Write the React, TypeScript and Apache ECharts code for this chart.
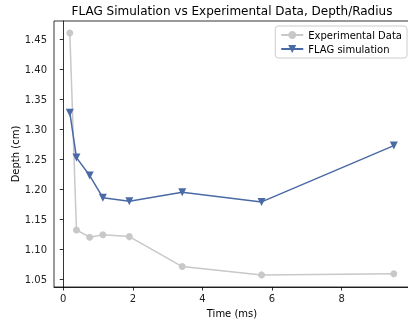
import React, { useEffect, useRef } from "react";
import * as echarts from "echarts";

const timeMs = [0.19, 0.38, 0.76, 1.14, 1.9, 3.42, 5.7, 9.5];
const experimental = [1.461, 1.132, 1.12, 1.124, 1.121, 1.071, 1.057, 1.059];
const flag = [1.328, 1.253, 1.223, 1.186, 1.18, 1.195, 1.179, 1.273];
const xTicks = [0, 2, 4, 6, 8];
const yTicks = [1.05, 1.1, 1.15, 1.2, 1.25, 1.3, 1.35, 1.4, 1.45];

const FONT = "DejaVu Sans";

export default function App() {
  const ref = useRef<HTMLDivElement>(null);
  useEffect(() => {
    if (!ref.current) return;
    const chart = echarts.init(ref.current, undefined, { renderer: "svg" });
    const axisCommon = {
      axisLine: { show: true, lineStyle: { color: "#000", width: 0.8 } },
      axisTick: { show: true, length: 3.5, lineStyle: { color: "#000", width: 0.8 } },
      splitLine: { show: false },
    };
    chart.setOption({
      animation: false,
      title: {
        text: "FLAG Simulation vs Experimental Data, Depth/Radius",
        left: 232,
        textAlign: "center",
        top: 5,
        padding: 0,
        textStyle: { fontFamily: FONT, fontSize: 12, fontWeight: "normal", color: "#000" },
      },
      grid: {
        left: 54,
        top: 21,
        width: 356,
        height: 266,
        outerBoundsMode: "none",
        containLabel: false,
        show: true,
        borderColor: "#000",
        borderWidth: 0.8,
        backgroundColor: "transparent",
      },
      legend: {
        orient: "vertical",
        right: 1,
        top: 26,
        itemWidth: 22,
        itemHeight: 10,
        itemGap: 4,
        padding: [4, 5, 4, 5],
        borderColor: "#ccc",
        borderWidth: 1,
        borderRadius: 3,
        textStyle: { fontFamily: FONT, fontSize: 10, color: "#000" },
        data: ["Experimental Data", "FLAG simulation"],
      },
      xAxis: {
        type: "value",
        min: -0.265,
        max: 9.965,
        name: "Time (ms)",
        nameLocation: "middle",
        nameGap: 21,
        nameMoveOverlap: false,
        nameTextStyle: { fontFamily: FONT, fontSize: 10, color: "#000" },
        ...axisCommon,
        axisTick: { ...axisCommon.axisTick, customValues: xTicks },
        axisLabel: {
          customValues: xTicks,
          margin: 6,
          fontFamily: FONT,
          fontSize: 10,
          color: "#222",
        },
      },
      yAxis: {
        type: "value",
        min: 1.0368,
        max: 1.4812,
        name: "Depth (cm)",
        nameLocation: "middle",
        nameGap: 34,
        nameMoveOverlap: false,
        nameTextStyle: { fontFamily: FONT, fontSize: 10, color: "#000" },
        ...axisCommon,
        axisTick: { ...axisCommon.axisTick, customValues: yTicks },
        axisLabel: {
          customValues: yTicks,
          margin: 7,
          fontFamily: FONT,
          fontSize: 10,
          color: "#222",
          formatter: (v: number) => v.toFixed(2),
        },
      },
      series: [
        {
          name: "Experimental Data",
          type: "line",
          data: timeMs.map((t, i) => [t, experimental[i]]),
          symbol: "circle",
          symbolSize: 7,
          lineStyle: { color: "#c8c8c8", width: 1.5 },
          itemStyle: { color: "#c8c8c8" },
          z: 2,
        },
        {
          name: "FLAG simulation",
          type: "line",
          data: timeMs.map((t, i) => [t, flag[i]]),
          symbol: "triangle",
          symbolRotate: 180,
          symbolSize: 8,
          lineStyle: { color: "#4a6aa5", width: 1.5 },
          itemStyle: { color: "#4a6aa5" },
          z: 3,
        },
      ],
    });
    return () => chart.dispose();
  }, []);
  return (
    <div
      ref={ref}
      style={{ position: "fixed", left: 0, top: 0, width: 408, height: 322 }}
    />
  );
}
